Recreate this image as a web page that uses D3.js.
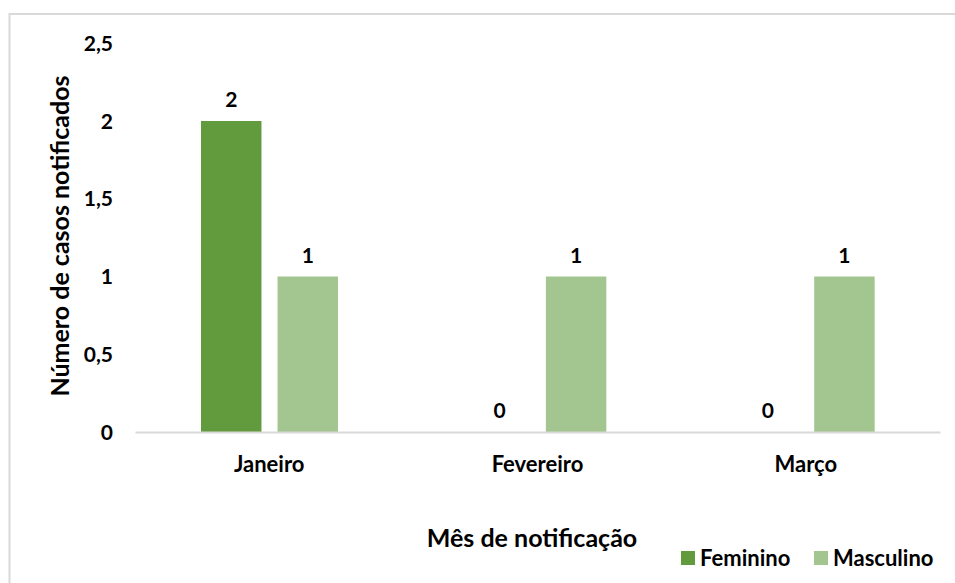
<!DOCTYPE html>
<html>
<head>
<meta charset="utf-8">
<script src="https://cdn.jsdelivr.net/npm/d3@7"></script>
<style>
  body { margin: 0; background: #fff; }
  text { font-family: Lato, "Open Sans", sans-serif; font-weight: 700; fill: #000; }
</style>
</head>
<body>
<div id="chart"></div>
<script>
const months = ['Janeiro', 'Fevereiro', 'Março'];
const seriesNames = ['Feminino', 'Masculino'];
const feminino = [2, 0, 0];
const masculino = [1, 1, 1];
const yTicks = [0, 0.5, 1, 1.5, 2, 2.5];

const colors = { Feminino: '#629a3e', Masculino: '#a3c58f' };

const W = 955;
const H = 583;

const svg = d3.select('#chart').append('svg')
    .attr('width', W)
    .attr('height', H);

// outer chart frame
svg.append('rect')
    .attr('x', 9.5)
    .attr('y', 14)
    .attr('width', W + 10)
    .attr('height', H + 10)
    .attr('fill', '#fff')
    .attr('stroke', '#d9d9d9')
    .attr('stroke-width', 2);

const x = d3.scaleBand()
    .domain(months)
    .range([135, 940]);

const x1 = d3.scaleBand()
    .domain(seriesNames)
    .range([66, 203])
    .paddingInner(0.21);

const y = d3.scaleLinear()
    .domain([0, 2.5])
    .range([432, 43.25]);

const rows = months.map((m, i) => ({
  month: m,
  values: [
    { name: 'Feminino', value: feminino[i] },
    { name: 'Masculino', value: masculino[i] },
  ],
}));

// y tick labels (no axis line)
const fmt = d3.format('.1~f');
svg.append('g')
  .selectAll('text')
    .data(yTicks)
  .enter()
    .append('text')
    .attr('x', 113)
    .attr('y', (d) => y(d))
    .attr('dy', '0.36em')
    .attr('text-anchor', 'end')
    .style('font-size', '21px')
    .text((d) => fmt(d).replace('.', ','));

const group = svg.selectAll('.month')
    .data(rows)
  .enter()
    .append('g')
    .attr('class', 'month')
    .attr('transform', (d) => `translate(${x(d.month)},0)`);

group.selectAll('rect')
    .data((d) => d.values)
  .enter()
    .append('rect')
    .attr('x', (d) => x1(d.name))
    .attr('width', x1.bandwidth())
    .attr('y', (d) => y(d.value))
    .attr('height', (d) => y(0) - y(d.value))
    .style('fill', (d) => colors[d.name]);

group.selectAll('.lbl')
    .data((d) => d.values)
  .enter()
    .append('text')
    .attr('class', 'lbl')
    .attr('x', (d) => x1(d.name) + x1.bandwidth() / 2)
    .attr('y', (d) => y(d.value) - 14)
    .attr('text-anchor', 'middle')
    .style('font-size', '21px')
    .text((d) => d.value);

// x axis
const xAxis = d3.axisBottom(x).tickSize(0).tickPadding(24);
const gx = svg.append('g')
    .attr('transform', `translate(0,${y(0)})`)
    .call(xAxis);
gx.select('.domain').attr('stroke', '#d9d9d9').attr('stroke-width', 2);
gx.selectAll('text')
    .style('font-size', '22px')
    .style('font-family', 'Lato, "Open Sans", sans-serif')
    .style('font-weight', '700');

// axis titles
svg.append('text')
    .attr('x', 532)
    .attr('y', 547)
    .attr('text-anchor', 'middle')
    .style('font-size', '25px')
    .text('Mês de notificação');

svg.append('text')
    .attr('transform', 'translate(69,236) rotate(-90)')
    .attr('text-anchor', 'middle')
    .style('font-size', '25px')
    .text('Número de casos notificados');

// legend
const legendX = { Feminino: 681, Masculino: 814 };
const legend = svg.selectAll('.legend')
    .data(seriesNames)
  .enter()
    .append('g')
    .attr('class', 'legend')
    .attr('transform', (d) => `translate(${legendX[d]},551)`);

legend.append('rect')
    .attr('width', 14)
    .attr('height', 14)
    .style('fill', (d) => colors[d]);

legend.append('text')
    .attr('x', 19)
    .attr('y', 7)
    .attr('dy', '0.36em')
    .style('font-size', '22px')
    .text((d) => d);
</script>
</body>
</html>
